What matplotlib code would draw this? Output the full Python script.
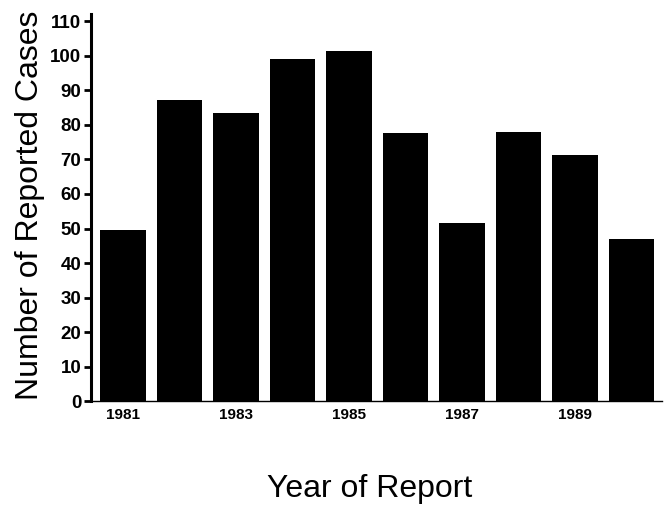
import matplotlib.pyplot as plt

# donnees
years = [1981, 1982, 1983, 1984, 1985, 1986, 1987, 1988, 1989, 1990]
cases = [49.6, 87.2, 83.3, 99.1, 101.3, 77.7, 51.7, 77.9, 71.2, 47.0]
year_labels = ["1981", "1983", "1985", "1987", "1989"]
y_ticks = list(range(0, 111, 10))

plt.rcParams['font.family'] = ['Liberation Sans', 'DejaVu Sans']

fig = plt.figure(figsize=(6.64, 5.05), dpi=100)
ax = fig.add_axes([0.137, 0.205, 0.86, 0.767])

pos = list(range(len(years)))
ax.bar(pos, cases, width=0.81, color='black')

ax.set_xlim(-0.566, 9.54)
ax.set_ylim(0, 112)

ax.set_yticks(y_ticks)
ax.set_yticklabels([str(v) for v in y_ticks], fontsize=13.5, fontweight='bold')
ax.set_xticks(pos[::2])
ax.set_xticklabels(year_labels, fontsize=11, fontweight='bold')

ax.tick_params(axis='y', direction='out', length=5, width=2, pad=2)
ax.tick_params(axis='x', length=0, pad=5)

for s in ['top', 'right']:
    ax.spines[s].set_visible(False)
ax.spines['left'].set_linewidth(2.2)
ax.spines['bottom'].set_linewidth(1.0)

fig.text(0.045, 0.594, "Number of Reported Cases", rotation=90,
         fontsize=23, ha='center', va='center')
fig.text(0.556, 0.016, "Year of Report", fontsize=23,
         ha='center', va='baseline')

plt.savefig('out.png', dpi=100)
